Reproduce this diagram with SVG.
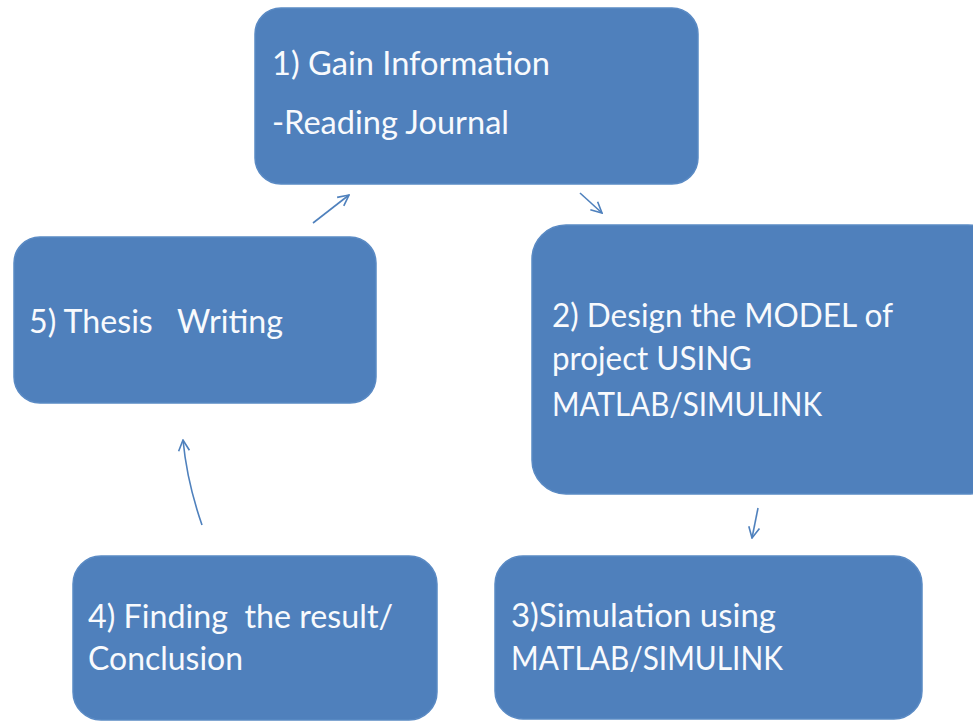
<svg xmlns="http://www.w3.org/2000/svg" width="973" height="721" viewBox="0 0 973 721">
<style>
.box{fill:#4F80BC;stroke:#5A8AC4;stroke-width:1.5}
.t{font-family:Lato,"Open Sans","Liberation Sans",sans-serif;font-size:33px;fill:#F8FAFD}
.c{fill:none;stroke:#4F81BD;stroke-width:1.6;marker-end:url(#ah)}
</style>
<defs>
<marker id="ah" viewBox="0 0 12 12" refX="11" refY="6" markerWidth="13" markerHeight="13" markerUnits="userSpaceOnUse" orient="auto">
<path d="M1,1 L11,6 L1,11" fill="none" stroke="#4F81BD" stroke-width="1.5"/>
</marker>
</defs>
<rect width="973" height="721" fill="#FFFFFF"/>
<g id="node1">
<rect class="box" x="255" y="8" width="443" height="176" rx="26"/>
<text class="t" x="272" y="75" font-size="34" textLength="278" lengthAdjust="spacingAndGlyphs">1) Gain Information</text>
<text class="t" x="272" y="134" font-size="34" textLength="237" lengthAdjust="spacingAndGlyphs">-Reading Journal</text>
</g>
<g id="node2">
<rect class="box" x="532" y="225" width="470" height="269" rx="34"/>
<text class="t" x="552" y="327" font-size="37" textLength="341" lengthAdjust="spacingAndGlyphs">2) Design the MODEL of</text>
<text class="t" x="552" y="370" font-size="37" textLength="200" lengthAdjust="spacingAndGlyphs">project USING</text>
<text class="t" x="552" y="416" font-size="37" textLength="270" lengthAdjust="spacingAndGlyphs">MATLAB/SIMULINK</text>
</g>
<g id="node3">
<rect class="box" x="495" y="556" width="427" height="163" rx="28"/>
<text class="t" x="511" y="627" font-size="37" textLength="265" lengthAdjust="spacingAndGlyphs">3)Simulation using</text>
<text class="t" x="511" y="670" font-size="37" textLength="272" lengthAdjust="spacingAndGlyphs">MATLAB/SIMULINK</text>
</g>
<g id="node4">
<rect class="box" x="73" y="556" width="364" height="164" rx="28"/>
<text class="t" x="88" y="628" xml:space="preserve" textLength="305" lengthAdjust="spacingAndGlyphs">4) Finding  the result/</text>
<text class="t" x="88" y="670" textLength="155" lengthAdjust="spacingAndGlyphs">Conclusion</text>
</g>
<g id="node5">
<rect class="box" x="14" y="237" width="362" height="166" rx="26"/>
<text class="t" x="29" y="333" font-size="35" xml:space="preserve" textLength="254" lengthAdjust="spacingAndGlyphs">5) Thesis   Writing</text>
</g>
<g id="connectors">
<path class="c" d="M313,223 L349,195"/>
<path class="c" d="M580,193 L602,213"/>
<path class="c" d="M758,508 L752,538"/>
<path class="c" d="M202,525 Q187,482 183,440"/>
</g>
</svg>
